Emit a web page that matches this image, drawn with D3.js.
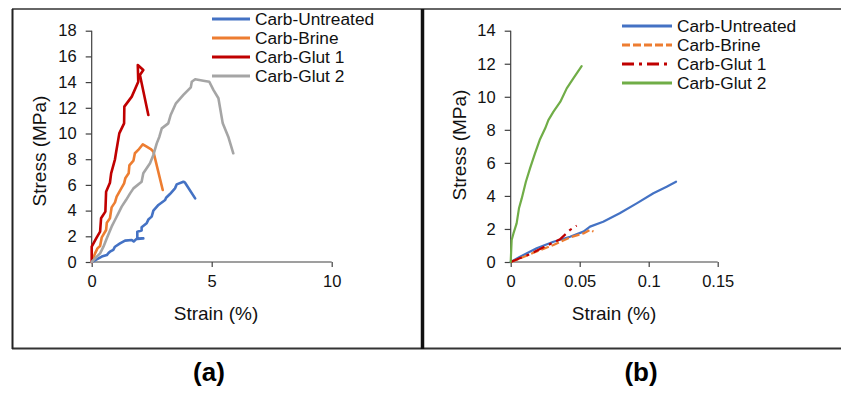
<!DOCTYPE html>
<html>
<head>
<meta charset="utf-8">
<script src="https://cdn.jsdelivr.net/npm/d3@7/dist/d3.min.js"></script>
<style>
  html, body { margin: 0; padding: 0; background: #fff; }
  svg { display: block; font-family: "Liberation Sans", Arial, Helvetica, sans-serif; }
</style>
</head>
<body>
<svg id="chart" width="841" height="394"></svg>
<script>
// Series names shared by both panels
const seriesNames = ["Carb-Untreated", "Carb-Brine", "Carb-Glut 1", "Carb-Glut 2"];

// Panel (a): stress (MPa) vs strain (%) — [strain, stress]
const untreatedA = [[0,0],[0.21,0.21],[0.42,0.42],[0.63,0.54],[0.7,0.7],[0.76,0.8],[0.9,0.95],[0.97,1.19],[1.18,1.45],[1.39,1.66],[1.67,1.71],[1.75,1.6],[1.88,1.82],[2.15,1.84],[1.9,1.8],[1.9,2.36],[2.08,2.45],[2.08,2.7],[2.29,3.01],[2.36,3.3],[2.5,3.53],[2.57,4.0],[2.78,4.44],[3.06,4.82],[3.1,5.0],[3.26,5.29],[3.47,5.73],[3.54,6.04],[3.82,6.25],[3.89,6.17],[4.31,4.95]];
const brineA = [[0,0],[0.14,0.67],[0.24,1.06],[0.35,1.25],[0.42,1.92],[0.6,2.49],[0.63,3.06],[0.76,3.4],[0.83,4.25],[0.97,4.64],[1.04,5.08],[1.18,5.55],[1.35,6.12],[1.4,6.51],[1.54,6.9],[1.57,7.52],[1.74,7.89],[1.8,8.46],[1.94,8.72],[2.13,9.16],[2.29,8.98],[2.46,8.79],[2.57,8.59],[2.96,5.6]];
const glut1A = [[0,0],[0,1.19],[0.21,1.92],[0.35,2.36],[0.39,3.4],[0.57,3.92],[0.6,5.47],[0.76,6.17],[0.81,6.9],[0.97,7.99],[1.01,8.46],[1.15,10.01],[1.35,10.79],[1.36,12.09],[1.67,12.87],[1.94,14.03],[1.92,15.33],[2.15,14.94],[2.01,14.55],[2.36,11.44]];
const glut2A = [[0,0],[0.21,0.42],[0.35,0.67],[0.49,1.19],[0.63,1.84],[0.83,2.75],[0.97,3.27],[1.11,3.79],[1.25,4.31],[1.43,4.82],[1.6,5.34],[1.74,5.73],[2.08,6.25],[2.15,6.9],[2.43,7.68],[2.57,8.33],[2.71,9.23],[2.82,9.75],[2.92,10.4],[3.19,10.79],[3.29,11.44],[3.51,12.35],[3.82,13.0],[4.13,13.59],[4.17,14.03],[4.31,14.22],[4.65,14.11],[4.9,14.03],[5.07,13.39],[5.28,12.74],[5.46,10.79],[5.69,9.75],[5.9,8.46]];

// Panel (b): stress (MPa) vs strain (%) — [strain, stress]
const untreatedB = [[0,0],[0.0068,0.32],[0.0188,0.83],[0.031,1.23],[0.043,1.53],[0.0527,1.84],[0.0575,2.14],[0.067,2.44],[0.079,2.95],[0.0913,3.55],[0.1034,4.16],[0.113,4.56],[0.1198,4.86]];
const brineB = [[0,0],[0.0068,0.22],[0.0188,0.63],[0.031,1.03],[0.043,1.49],[0.0527,1.73],[0.0575,1.94],[0.06,1.84]];
const glut1B = [[0,0],[0.007,0.24],[0.014,0.48],[0.0237,0.89],[0.0357,1.37],[0.043,1.94],[0.0478,2.2]];
const glut2B = [[0,0],[0.0007,1.33],[0.002,1.73],[0.0043,2.34],[0.006,3.25],[0.008,3.85],[0.011,4.86],[0.014,5.67],[0.0176,6.58],[0.021,7.38],[0.025,8.09],[0.0273,8.59],[0.031,9.1],[0.036,9.7],[0.0406,10.51],[0.0454,11.12],[0.0514,11.86]];

// Axis ticks
const xTicksA = [0, 5, 10];
const yTicksA = [0, 2, 4, 6, 8, 10, 12, 14, 16, 18];
const xTicksB = [0, 0.05, 0.1, 0.15];
const yTicksB = [0, 2, 4, 6, 8, 10, 12, 14];

const svg = d3.select("#chart");

// Panel frame
const frame = svg.append("g").attr("fill", "none");
frame.append("line").attr("x1", 12).attr("x2", 841).attr("y1", 9).attr("y2", 9).attr("stroke", "#333").attr("stroke-width", 1.6);
frame.append("line").attr("x1", 12).attr("x2", 841).attr("y1", 348.5).attr("y2", 348.5).attr("stroke", "#333").attr("stroke-width", 2);
frame.append("line").attr("x1", 12.5).attr("x2", 12.5).attr("y1", 9).attr("y2", 349).attr("stroke", "#222").attr("stroke-width", 2);
frame.append("line").attr("x1", 422.5).attr("x2", 422.5).attr("y1", 9).attr("y2", 349).attr("stroke", "#111").attr("stroke-width", 3.5);

function panel(cfg) {
  const g = svg.append("g");
  const x = d3.scaleLinear().domain(cfg.xDomain).range(cfg.xRange);
  const y = d3.scaleLinear().domain(cfg.yDomain).range([262, 30.7]);

  const xAxis = g.append("g").attr("transform", `translate(0,${y(0)})`)
    .call(d3.axisBottom(x).tickValues(cfg.xTicks).tickSize(5).tickPadding(8).tickFormat(cfg.xFmt));
  const yAxis = g.append("g").attr("transform", `translate(${x(0)},0)`)
    .call(d3.axisLeft(y).tickValues(cfg.yTicks).tickSize(6).tickPadding(9).tickFormat(d3.format("d")));
  [xAxis, yAxis].forEach(a => {
    a.select(".domain").attr("stroke", "#404040").attr("stroke-width", 1.2);
    a.selectAll(".tick line").attr("stroke", "#404040").attr("stroke-width", 1.2);
    a.selectAll(".tick text").attr("fill", "#111").style("font-size", "16.5px")
      .style("font-family", "'Liberation Sans', Arial, sans-serif");
  });
  xAxis.selectAll(".domain").attr("d", `M${cfg.xRange[0]},0H${cfg.xRange[1]}`);
  yAxis.selectAll(".domain").attr("d", `M0,${y(0)}V${y(cfg.yDomain[1])}`);

  g.append("text").attr("x", cfg.xTitleX).attr("y", 320).attr("text-anchor", "middle")
    .style("font-size", "19px").attr("fill", "#111").text("Strain (%)");
  g.append("text").attr("transform", `translate(${cfg.yTitleX},${cfg.yTitleY}) rotate(-90)`)
    .attr("text-anchor", "middle").style("font-size", "19px").attr("fill", "#111").text("Stress (MPa)");

  const line = d3.line().x(d => x(d[0])).y(d => y(d[1]));
  cfg.series.forEach((s, i) => {
    g.append("path").datum(s.data).attr("d", line).attr("fill", "none")
      .attr("stroke", s.color).attr("stroke-width", cfg.lineWidth)
      .attr("stroke-linejoin", "round").attr("stroke-linecap", s.dash ? "butt" : "round")
      .attr("stroke-dasharray", s.dash || null);
  });

  // Legend
  const lg = g.append("g");
  cfg.series.forEach((s, i) => {
    const ly = cfg.legendY + i * 19;
    lg.append("line").attr("x1", cfg.legendX).attr("x2", cfg.legendX + cfg.legendLen)
      .attr("y1", ly).attr("y2", ly).attr("stroke", s.color).attr("stroke-width", 3)
      .attr("stroke-dasharray", s.dash || null);
    lg.append("text").attr("x", cfg.legendX + cfg.legendLen + 5).attr("y", ly + 6)
      .style("font-size", "17.3px").attr("fill", "#111").text(seriesNames[i]);
  });

  g.append("text").attr("x", cfg.labelX).attr("y", 381).attr("text-anchor", "middle")
    .style("font-size", "26px").style("font-weight", "bold").attr("fill", "#000").text(cfg.label);
}

panel({
  xDomain: [0, 10], xRange: [91.7, 331.7], yDomain: [0, 18],
  xTicks: xTicksA, yTicks: yTicksA, xFmt: d3.format("d"),
  xTitleX: 216, yTitleX: 46, yTitleY: 151,
  legendX: 212, legendLen: 38, legendY: 19, lineWidth: 2.6,
  label: "(a)", labelX: 209,
  series: [
    { data: untreatedA, color: "#4472C4" },
    { data: brineA, color: "#ED7D31" },
    { data: glut1A, color: "#C00000" },
    { data: glut2A, color: "#A5A5A5" }
  ]
});

panel({
  xDomain: [0, 0.15], xRange: [510.7, 717.7], yDomain: [0, 14],
  xTicks: xTicksB, yTicks: yTicksB, xFmt: d => d === 0 ? "0" : String(d),
  xTitleX: 614, yTitleX: 466, yTitleY: 145,
  legendX: 622, legendLen: 50, legendY: 26, lineWidth: 2.2,
  label: "(b)", labelX: 641,
  series: [
    { data: untreatedB, color: "#4472C4" },
    { data: brineB, color: "#ED7D31", dash: "8,3" },
    { data: glut1B, color: "#C00000", dash: "12,5,3,5" },
    { data: glut2B, color: "#70AD47" }
  ]
});
</script>
</body>
</html>
